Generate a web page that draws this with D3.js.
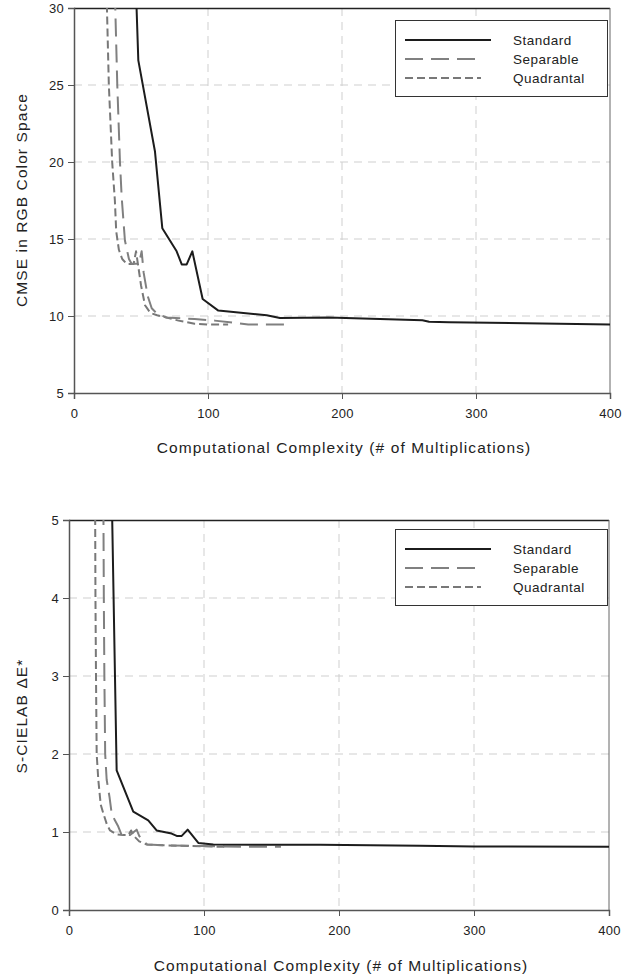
<!DOCTYPE html>
<html>
<head>
<meta charset="utf-8">
<script src="https://cdn.jsdelivr.net/npm/d3@7"></script>
<style>
  body { margin: 0; background: #fff; }
  svg { display: block; font-family: "Liberation Sans", Arial, sans-serif; }
</style>
</head>
<body>
<svg id="chart" width="637" height="976"></svg>
<script>
// x = number of multiplications, y = error
let seriesNames = ["Standard", "Separable", "Quadrantal"];

let cmseStandard = [[46.3,31],[48,26.6],[60.4,20.7],[65.9,15.7],[76.6,14.2],[80.4,13.35],[84.1,13.35],[88.3,14.2],
    [96,11.1],[107.7,10.35],[143.8,10.05],[153.7,9.87],[190,9.9],[260,9.73],[265,9.63],[280,9.59],[375,9.48],[400,9.45]];
let cmseSeparable = [[30.5,31],[32.3,25],[34.3,20],[35.6,17.7],[38,14.9],[41,13.7],[43,13.4],[48.5,13.4],[50.5,14.2],
    [52,12.8],[55,11.3],[58,10.5],[62,10.15],[69,9.9],[90,9.8],[105,9.7],[120,9.55],[130,9.45],[157,9.45]];
let cmseQuadrantal = [[24.3,31],[26,25],[28.5,20],[30.5,17.5],[31.5,15.5],[33.5,14.3],[36,13.7],[39.3,13.38],[44.5,13.38],
    [46.3,14.2],[48,13.2],[50,12],[53,10.7],[57,10.2],[62,10.05],[69,9.9],[78,9.7],[90,9.5],[100,9.45],[115,9.45]];

let deStandard = [[31.5,5.5],[35.3,1.79],[47.6,1.26],[58.7,1.15],[64.9,1.02],[76,0.98],[79.8,0.95],[83.5,0.95],[87.9,1.03],
    [95.8,0.86],[106.9,0.84],[186,0.835],[260,0.825],[300,0.815],[400,0.81]];
let deSeparable = [[25.4,5.5],[25.8,4],[26.2,3],[26.8,2],[27.9,1.67],[30,1.45],[31.6,1.24],[34,1.15],[36.5,1.07],[39,0.96],
    [45,0.96],[50.1,1.03],[52,0.95],[55,0.88],[58,0.84],[70,0.83],[100,0.82],[130,0.81],[157,0.81]];
let deQuadrantal = [[19.3,5.5],[19.6,4],[20,3],[20.5,2],[21.7,1.67],[23.5,1.35],[25.4,1.24],[28,1.1],[30.4,1.02],[35.3,0.97],
    [40,0.96],[44,0.96],[46,1.02],[48,0.95],[52,0.88],[57.5,0.84],[70,0.83],[90,0.82],[115,0.81]];

let xTicks = [0, 100, 200, 300, 400];
let cmseTicks = [5, 10, 15, 20, 25, 30];
let deTicks = [0, 1, 2, 3, 4, 5];

let xTitle = "Computational Complexity (# of Multiplications)";

let styles = [
    { color: "#1c1c1c", dash: null, width: 2 },
    { color: "#808080", dash: "18,8", width: 2 },
    { color: "#787878", dash: "8,4", width: 2 }
];

let svg = d3.select("#chart");

function drawPanel(opt, id) {
    let x = d3.scaleLinear().domain([0, 400]).range([opt.left, opt.right]);
    let y = d3.scaleLinear().domain(opt.yDomain).range([opt.bottom, opt.top]);
    let g = svg.append("g");

    // grid
    g.selectAll(".vgrid").data(xTicks.slice(1, -1)).enter().append("line")
        .attr("x1", d => x(d)).attr("x2", d => x(d))
        .attr("y1", opt.top).attr("y2", opt.bottom)
        .attr("stroke", "#cfcfcf").attr("stroke-dasharray", "8,6");
    g.selectAll(".hgrid").data(opt.yTicks.slice(1, -1)).enter().append("line")
        .attr("x1", opt.left).attr("x2", opt.right)
        .attr("y1", d => y(d)).attr("y2", d => y(d))
        .attr("stroke", "#cfcfcf").attr("stroke-dasharray", "8,6");

    // frame
    g.append("line").attr("x1", opt.left).attr("x2", opt.right).attr("y1", opt.top + 0.5).attr("y2", opt.top + 0.5)
        .attr("stroke", "#222").attr("stroke-width", 1.5);
    g.append("line").attr("x1", opt.right).attr("x2", opt.right).attr("y1", opt.top).attr("y2", opt.bottom)
        .attr("stroke", "#666");

    // data lines
    g.append("clipPath").attr("id", "clip" + id).append("rect")
        .attr("x", opt.left).attr("y", opt.top).attr("width", opt.right - opt.left).attr("height", opt.bottom - opt.top);
    let line = d3.line().x(d => x(d[0])).y(d => y(d[1]));
    let lg = g.append("g").attr("clip-path", "url(#clip" + id + ")");
    opt.series.slice().reverse().forEach(function(s, i) {
        let st = styles[opt.series.length - 1 - i];
        lg.append("path").datum(s).attr("d", line)
            .attr("fill", "none").attr("stroke", st.color).attr("stroke-width", st.width)
            .attr("stroke-dasharray", st.dash).attr("stroke-linejoin", "round");
    });

    // axes
    let xa = g.append("g").attr("transform", "translate(0," + opt.bottom + ")")
        .call(d3.axisBottom(x).tickValues(xTicks).tickSize(6).tickPadding(10).tickFormat(d3.format("d")));
    let ya = g.append("g").attr("transform", "translate(" + opt.left + ",0)")
        .call(d3.axisLeft(y).tickValues(opt.yTicks).tickSize(6).tickPadding(4).tickFormat(d3.format("d")));
    [xa, ya].forEach(function(a) {
        a.select(".domain").attr("stroke", "#555").attr("stroke-width", 1.5);
        a.selectAll(".tick line").attr("stroke", "#555");
        a.selectAll("text").attr("font-size", 13).attr("fill", "#222").attr("letter-spacing", 0.3)
            .attr("font-family", "'Liberation Sans', Arial, sans-serif");
    });

    // titles
    g.append("text").attr("x", (opt.left + opt.right) / 2 + 2).attr("y", opt.xTitleY)
        .attr("text-anchor", "middle").attr("font-size", 15.5).attr("fill", "#222")
        .attr("letter-spacing", 1.1).text(xTitle);
    g.append("text").attr("transform", "translate(" + opt.yTitleX + "," + opt.yTitleCenter + ") rotate(-90)")
        .attr("text-anchor", "middle").attr("font-size", 15.5).attr("fill", "#222")
        .attr("letter-spacing", 1.1).text(opt.yTitle);

    // legend
    let lx = 395, ly = opt.legendTop;
    g.append("rect").attr("x", lx + 0.5).attr("y", ly + 0.5).attr("width", 212).attr("height", 76)
        .attr("fill", "#fff").attr("stroke", "#333");
    seriesNames.forEach(function(name, i) {
        let yy = ly + 20 + i * 19;
        let st = styles[i];
        g.append("line").attr("x1", lx + 10).attr("x2", lx + (i == 0 ? 96 : 86)).attr("y1", yy).attr("y2", yy)
            .attr("stroke", st.color).attr("stroke-width", st.width).attr("stroke-dasharray", st.dash);
        g.append("text").attr("x", lx + 118).attr("y", yy + 5)
            .attr("font-size", 13.5).attr("fill", "#222").attr("letter-spacing", 0.5).text(name);
    });
}

drawPanel({
    left: 74, right: 610, top: 8, bottom: 393,
    yDomain: [5, 30], yTicks: cmseTicks,
    series: [cmseStandard, cmseSeparable, cmseQuadrantal],
    xTitleY: 453, yTitle: "CMSE in RGB Color Space", yTitleX: 27, yTitleCenter: 200,
    legendTop: 20
}, 1);

drawPanel({
    left: 69, right: 609, top: 520, bottom: 910,
    yDomain: [0, 5], yTicks: deTicks,
    series: [deStandard, deSeparable, deQuadrantal],
    xTitleY: 971, yTitle: "S-CIELAB \u0394E*", yTitleX: 27, yTitleCenter: 716,
    legendTop: 529
}, 2);
</script>
</body>
</html>
